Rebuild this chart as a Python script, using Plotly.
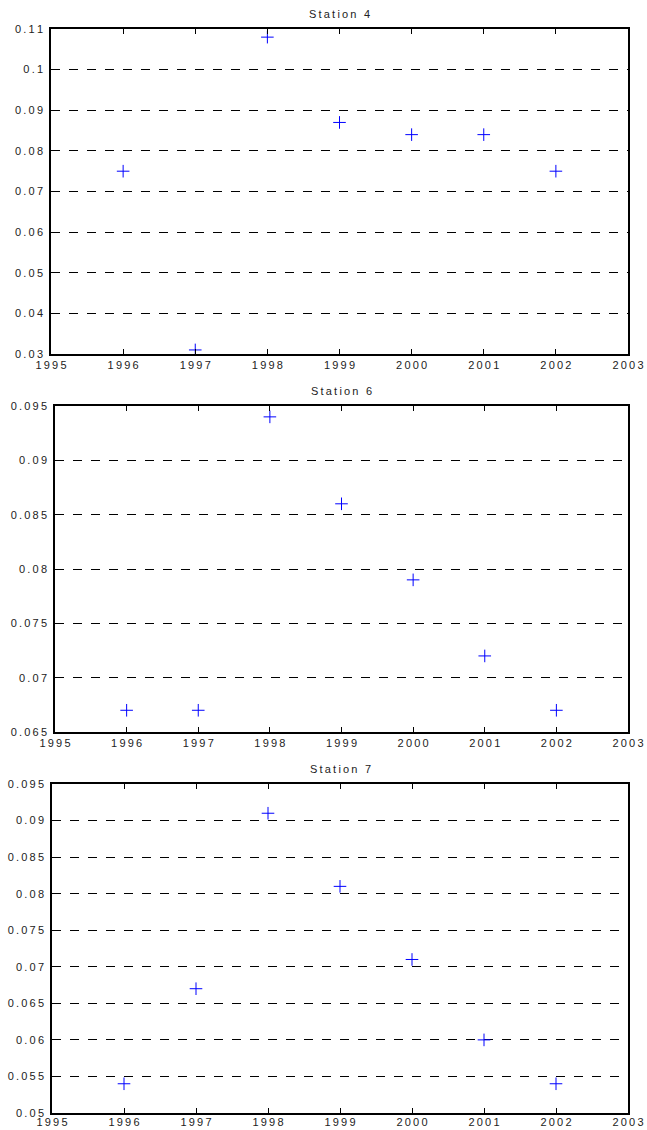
import plotly.graph_objects as go

years = [1996, 1997, 1998, 1999, 2000, 2001, 2002]
station4 = [0.075, 0.031, 0.108, 0.087, 0.084, 0.084, 0.075]
station6 = [0.067, 0.067, 0.094, 0.086, 0.079, 0.072, 0.067]
station7 = [0.054, 0.067, 0.091, 0.081, 0.071, 0.060, 0.054]
titles = ["Station 4", "Station 6", "Station 7"]
x_ticks = [1995, 1996, 1997, 1998, 1999, 2000, 2001, 2002, 2003]
y_ticks = [
    [0.03, 0.04, 0.05, 0.06, 0.07, 0.08, 0.09, 0.1, 0.11],
    [0.065, 0.07, 0.075, 0.08, 0.085, 0.09, 0.095],
    [0.05, 0.055, 0.06, 0.065, 0.07, 0.075, 0.08, 0.085, 0.09, 0.095],
]
y_ranges = [[0.03, 0.11], [0.065, 0.095], [0.05, 0.095]]


def spaced(s):
    return "\u2009".join(s)


W, H = 647, 1130
# pixel boxes in page coords: left, right, top, bottom
boxes = [(51, 628, 29, 354), (55, 628, 406, 732), (52, 628, 784, 1113)]
x_standoff = [0, 0, -2]

fig = go.Figure()
series = [station4, station6, station7]
font = dict(family="Liberation Sans, Arial", size=11, color="#222")
for i, (vals, box) in enumerate(zip(series, boxes)):
    n = "" if i == 0 else str(i + 1)
    fig.add_trace(go.Scatter(
        x=years, y=vals, mode="markers", xaxis="x" + n, yaxis="y" + n,
        marker=dict(symbol="cross-thin", size=9, line=dict(color="#0000ff", width=1)),
        showlegend=False, hoverinfo="x+y"))
    l, r, t, b = box
    fig.layout["xaxis" + n] = dict(
        domain=[l / W, r / W], anchor="y" + n, range=[1995, 2003],
        tickvals=x_ticks, ticktext=[spaced(str(v)) for v in x_ticks],
        ticks="inside", ticklen=5, tickcolor="black", mirror="ticks",
        ticklabelstandoff=x_standoff[i],
        showline=True, linecolor="black", linewidth=1.5, showgrid=False, zeroline=False,
        tickfont=font, automargin=False)
    fig.layout["yaxis" + n] = dict(
        domain=[1 - b / H, 1 - t / H], anchor="x" + n, range=y_ranges[i],
        tickvals=y_ticks[i], ticktext=[spaced(f"{v:g}") for v in y_ticks[i]],
        ticks="", mirror=True, ticklabelstandoff=4,
        showline=True, linecolor="black", linewidth=1.5,
        showgrid=True, gridcolor="black", griddash="dash", gridwidth=1,
        zeroline=False, tickfont=font, automargin=False)
    fig.add_annotation(text=spaced(titles[i]), x=(l + r) / 2 / W, y=1 - (t - 15) / H,
                       xref="paper", yref="paper", showarrow=False,
                       font=font, yanchor="middle")

fig.update_layout(width=W, height=H, margin=dict(l=0, r=0, t=0, b=0),
                  paper_bgcolor="white", plot_bgcolor="white")
fig.write_html(
    "out.html",
    config={"displayModeBar": False},
    post_script="document.body.style.margin='0';document.body.style.overflow='hidden';",
)
